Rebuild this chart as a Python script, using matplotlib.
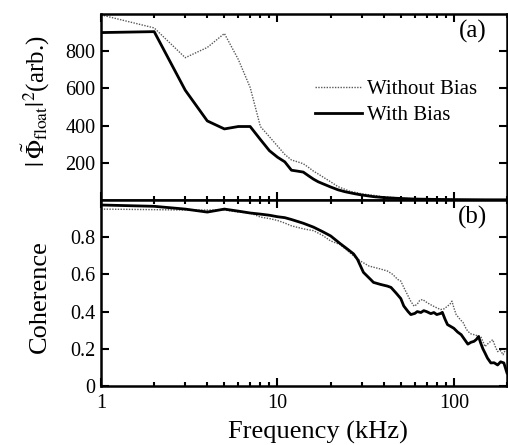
import numpy as np
import matplotlib
matplotlib.use("Agg")
import matplotlib.pyplot as plt
from matplotlib.ticker import LogLocator, NullFormatter

plt.rcParams['font.family'] = ['Liberation Serif', 'DejaVu Serif']
plt.rcParams['mathtext.fontset'] = 'stix'

# top panel: power spectrum (arb.)
f_top = [1, 2, 3, 4, 5, 6, 7, 8, 9, 10, 11, 12, 13, 14, 15, 16, 17, 18, 20, 22,
         24, 26, 28, 30, 35, 40, 50, 60, 80, 100, 150, 200]
pow_with = [900, 905, 590, 425, 382, 395, 395, 325, 265, 230, 205, 160, 155, 150,
            130, 112, 98, 88, 70, 55, 45, 38, 32, 27, 18, 13, 8, 5, 3, 2, 1, 1]
pow_without = [995, 925, 765, 820, 895, 755, 605, 395, 340, 290, 245, 215, 205, 195,
               175, 155, 140, 125, 98, 72, 58, 45, 40, 33, 25, 17, 10, 6, 4, 3, 2, 1]

# bottom panel: coherence
f_coh_with = [1, 2, 3, 4, 5, 6, 7, 8, 9, 10, 11, 12, 14, 16, 18, 20, 22.7, 25, 27,
              28.4, 30.7, 33.7, 35, 38.4, 42, 44, 47, 50, 52, 55, 57, 60, 62, 65,
              67.5, 70, 74, 77, 80, 84, 86, 89, 92, 96, 100, 105, 110, 115, 120,
              125, 130, 134, 138, 142, 146, 150, 155, 162, 169, 177, 184, 192, 200]
coh_with = [0.973, 0.966, 0.951, 0.935, 0.951, 0.94, 0.93, 0.924, 0.918, 0.91, 0.905,
            0.895, 0.875, 0.854, 0.83, 0.807, 0.765, 0.735, 0.71, 0.681, 0.611, 0.573,
            0.557, 0.546, 0.537, 0.53, 0.5, 0.47, 0.43, 0.4, 0.384, 0.39, 0.4, 0.395,
            0.405, 0.4, 0.389, 0.395, 0.384, 0.39, 0.396, 0.36, 0.33, 0.32, 0.31, 0.29,
            0.276, 0.25, 0.225, 0.235, 0.24, 0.25, 0.266, 0.23, 0.2, 0.178, 0.15,
            0.124, 0.125, 0.113, 0.13, 0.124, 0.07]
f_coh_without = [1, 2, 3, 4, 5, 6, 7, 8, 9, 10, 11, 12, 14, 16, 18, 20, 22.7, 25, 27,
                 29.5, 33, 38, 42, 45, 48, 50, 52, 54.6, 57, 59.5, 62, 64, 66.5, 70,
                 73.5, 78, 84, 88, 92, 95, 97.5, 100, 103, 108, 113, 117, 120, 125,
                 130, 136, 142, 146, 150, 157, 166, 172, 177, 184, 190, 195, 200]
coh_without = [0.951, 0.948, 0.946, 0.946, 0.946, 0.935, 0.93, 0.908, 0.9, 0.89, 0.876,
               0.861, 0.845, 0.835, 0.81, 0.78, 0.76, 0.726, 0.7, 0.672, 0.645, 0.63,
               0.618, 0.6, 0.573, 0.564, 0.53, 0.49, 0.455, 0.429, 0.44, 0.46, 0.465,
               0.45, 0.438, 0.425, 0.411, 0.415, 0.429, 0.44, 0.456, 0.42, 0.384, 0.36,
               0.34, 0.31, 0.294, 0.28, 0.276, 0.27, 0.266, 0.24, 0.212, 0.23, 0.249,
               0.21, 0.185, 0.19, 0.168, 0.19, 0.2]

top_ticks = [200, 400, 600, 800]
bot_ticks = [0, 0.2, 0.4, 0.6, 0.8]
bot_ticklabels = ['0', '0.2', '0.4', '0.6', '0.8']
x_ticks = [1, 10, 100]

fig = plt.figure(figsize=(5.08, 4.45), dpi=100)
ax1 = fig.add_axes([0.199, 0.5506, 0.799, 0.418])
ax2 = fig.add_axes([0.199, 0.1326, 0.799, 0.418])

dot_style = dict(color='0.35', lw=1.0, ls=(0, (1, 1)))
solid_style = dict(color='black', lw=2.0)

ax1.plot(f_top, pow_without, label='Without Bias', **dot_style)
ax1.plot(f_top, pow_with, label='With Bias', **solid_style)
ax2.plot(f_coh_without, coh_without, **dot_style)
ax2.plot(f_coh_with, coh_with, **solid_style)

for ax in (ax1, ax2):
    ax.set_xscale('log')
    ax.set_xlim(1, 200)
    ax.set_xticks(x_ticks)
    ax.xaxis.set_minor_locator(LogLocator(base=10, subs=np.arange(2, 10)))
    ax.xaxis.set_minor_formatter(NullFormatter())
    ax.tick_params(which='both', direction='in', top=True, right=True,
                   labelsize=14.5, width=1.5)
    ax.tick_params(which='major', length=6, pad=4)
    ax.tick_params(which='minor', length=3)
    for sp in ax.spines.values():
        sp.set_linewidth(1.8)

ax1.set_ylim(0, 1000)
ax1.set_yticks(top_ticks)
ax1.tick_params(labelbottom=False)
ax1.set_ylabel(r'$|\,\tilde{\Phi}_{\rm float}|^2$(arb.)', fontsize=18)
ax1.yaxis.set_label_coords(-0.123, 0.53)
ax1.text(0.951, 0.97, '(a)', transform=ax1.transAxes, ha='right', va='top', fontsize=18)
ax1.legend(loc='upper left', bbox_to_anchor=(0.527, 0.646), frameon=False, fontsize=15,
           handlelength=2.25, handletextpad=0.25, labelspacing=0.3, borderaxespad=0,
           borderpad=0)

ax2.set_ylim(0, 1.0)
ax2.set_yticks(bot_ticks)
ax2.set_yticklabels(bot_ticklabels)
ax2.set_xticklabels(['1', '10', '100'])
ax2.tick_params(axis='x', pad=6)
ax2.set_ylabel('Coherence', fontsize=19)
ax2.yaxis.set_label_coords(-0.123, 0.48)
ax2.set_xlabel('Frequency (kHz)', fontsize=19)
ax2.xaxis.set_label_coords(0.535, -0.19)
ax2.text(0.951, 0.97, '(b)', transform=ax2.transAxes, ha='right', va='top', fontsize=18)

fig.savefig('out.png', dpi=100)
